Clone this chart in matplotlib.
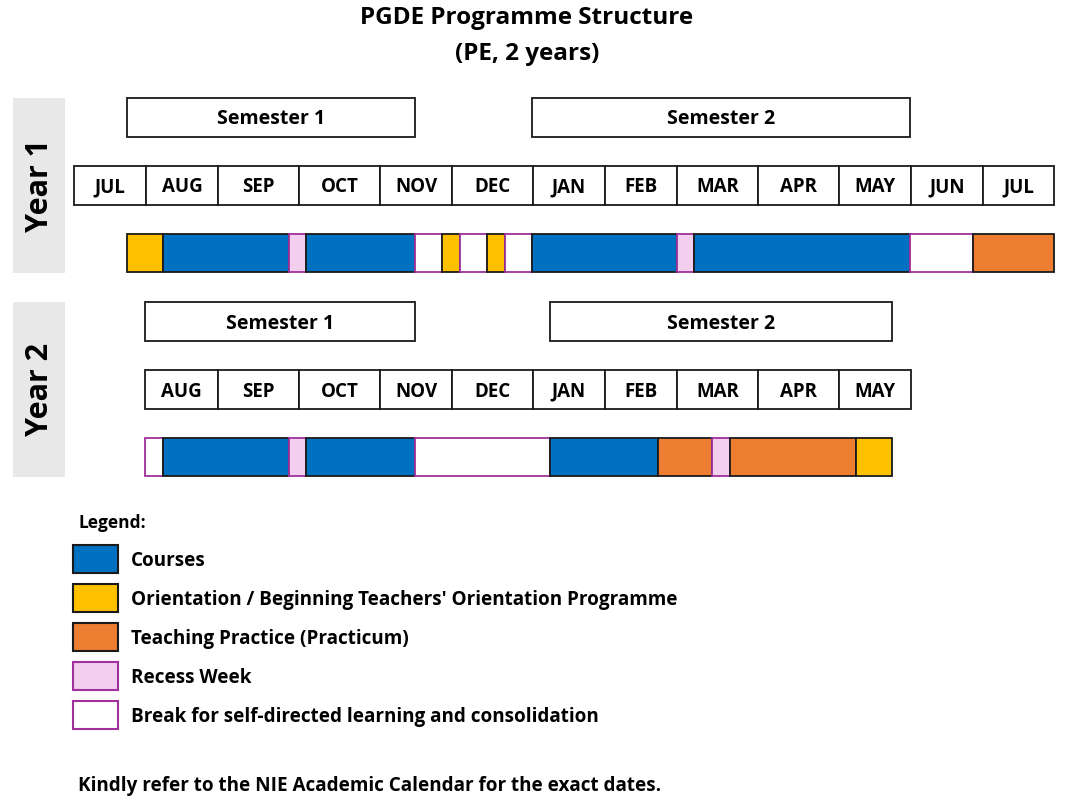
import matplotlib
matplotlib.use("Agg")
import matplotlib.pyplot as plt
from matplotlib.patches import Rectangle

FONT = "Open Sans"
COLORS = {"C": "#0070C0", "O": "#FFC000", "T": "#ED7D31", "R": "#F2CEEF", "B": "#FFFFFF"}
EDGE = {"C": "#1a1a1a", "O": "#1a1a1a", "T": "#1a1a1a", "R": "#A0309B", "B": "#A0309B"}

y1_months = ["JUL", "AUG", "SEP", "OCT", "NOV", "DEC", "JAN", "FEB", "MAR", "APR", "MAY", "JUN", "JUL"]
y1_month_edges = [74, 146, 218, 299, 380, 452, 533, 605, 677, 758, 839, 911, 983, 1054]
y1_sems = [("Semester 1", 127, 415), ("Semester 2", 532, 910)]
y1_segments = [(127, 163, "O"), (163, 289, "C"), (289, 306, "R"), (306, 415, "C"), (415, 442, "B"),
               (442, 460, "O"), (460, 487, "B"), (487, 505, "O"), (505, 532, "B"), (532, 677, "C"),
               (677, 694, "R"), (694, 910, "C"), (910, 973, "B"), (973, 1054, "T")]

y2_months = ["AUG", "SEP", "OCT", "NOV", "DEC", "JAN", "FEB", "MAR", "APR", "MAY"]
y2_month_edges = [145, 218, 299, 380, 452, 533, 605, 677, 758, 839, 911]
y2_sems = [("Semester 1", 145, 415), ("Semester 2", 550, 892)]
y2_segments = [(145, 163, "B"), (163, 289, "C"), (289, 306, "R"), (306, 415, "C"), (415, 550, "B"),
               (550, 658, "C"), (658, 712, "T"), (712, 730, "R"), (730, 856, "T"), (856, 892, "O")]

legend_keys = ["C", "O", "T", "R", "B"]
legend_labels = ["Courses", "Orientation / Beginning Teachers' Orientation Programme",
                 "Teaching Practice (Practicum)", "Recess Week",
                 "Break for self-directed learning and consolidation"]

fig = plt.figure(figsize=(10.68, 8.05), dpi=100)
ax = fig.add_axes([0, 0, 1, 1])
ax.set_xlim(0, 1068); ax.set_ylim(805, 0); ax.axis("off")

def box(x0, x1, y0, y1, fc="white", ec="#1a1a1a", lw=1.3):
    ax.add_patch(Rectangle((x0, y0), x1 - x0, y1 - y0, facecolor=fc, edgecolor=ec, lw=lw))

def txt(x, y, s, size=13, ha="center", **kw):
    ax.text(x, y + 1.5, s, fontsize=size, ha=ha, va="center", fontweight="bold", family=FONT, **kw)

txt(527, 17, "PGDE Programme Structure", 17.5)
txt(527, 52, "(PE, 2 years)", 17.5)

def year(label, ytop, sems, months, edges, segs):
    box(13, 65, ytop, ytop + 175, fc="#E8E8E8", ec="none")
    txt(40, ytop + 86, label, 22, rotation=90)
    for s, a, b in sems:
        box(a, b, ytop, ytop + 39)
        txt((a + b) / 2, ytop + 20, s, 14)
    for i, m in enumerate(months):
        box(edges[i], edges[i + 1], ytop + 68, ytop + 107)
        txt((edges[i] + edges[i + 1]) / 2, ytop + 88, m, 13.5)
    for a, b, k in segs:
        box(a, b, ytop + 136, ytop + 174, fc=COLORS[k], ec=EDGE[k])

year("Year 1", 98, y1_sems, y1_months, y1_month_edges, y1_segments)
year("Year 2", 302, y2_sems, y2_months, y2_month_edges, y2_segments)

txt(78, 521, "Legend:", 12.5, ha="left")
for i, (k, l) in enumerate(zip(legend_keys, legend_labels)):
    y0 = 545 + 39 * i
    box(73, 118, y0, y0 + 28, fc=COLORS[k], ec=EDGE[k], lw=1.5)
    txt(131, y0 + 14, l, 13.6, ha="left")

txt(78, 784, "Kindly refer to the NIE Academic Calendar for the exact dates.", 13.6, ha="left")
fig.savefig("out.png", dpi=100)
